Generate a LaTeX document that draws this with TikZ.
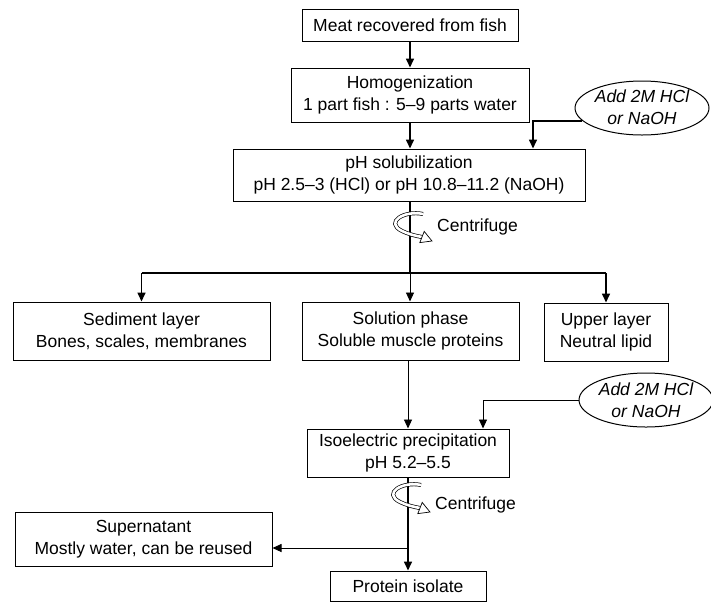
\documentclass[tikz,border=0pt]{standalone}
\usepackage{fontspec}
\setmainfont{Liberation Sans}
\usetikzlibrary{shapes.geometric,arrows.meta,calc}
\begin{document}
\begin{tikzpicture}[x=1pt,y=-1pt,
  font=\fontsize{17.5}{22}\selectfont,
  box/.style={draw, line width=1pt, rectangle, align=center, inner sep=0pt},
  oval/.style={draw, line width=1pt, ellipse, inner sep=0pt},
  ovaltext/.style={align=center, inner sep=0pt, font=\fontsize{17.5}{22}\selectfont\itshape},
  thick arr/.style={line width=1.6pt, -{Triangle[length=9pt,width=8pt]}},
  thin arr/.style={line width=0.9pt, -{Triangle[length=9pt,width=8pt]}},
  thick line/.style={line width=1.6pt},
  thin line/.style={line width=0.9pt},
  centri/.pic={
    \draw[line width=0.7pt, double=white, double distance=2.6pt]
      (13,-14) .. controls (-5,-18) and (-26,-6) .. (-8,3)
      .. controls (-2,6) and (6,8) .. (12,9);
    \filldraw[fill=white, line width=0.7pt] (9.8,14.6) -- (22,13) -- (14.2,3.4) -- cycle;
  }]
\useasboundingbox (0,0) rectangle (711,603);

% boxes
\node[box, minimum width=216, minimum height=32] (b1) at (410,25) {Meat recovered from fish};
\node[box, minimum width=238, minimum height=54] (b2) at (410,95) {Homogenization\\1 part fish : 5–9 parts water};
\node[box, minimum width=352, minimum height=52] (b3) at (409,175) {pH solubilization\\pH 2.5–3 (HCl) or pH 10.8–11.2 (NaOH)};
\node[oval, minimum width=134, minimum height=54] (e1) at (642,108) {};
\node[ovaltext] (e1t) at (642,107) {Add 2M HCl\\or NaOH};

\node[box, minimum width=257, minimum height=58] (sed) at (141.5,331) {Sediment layer\\Bones, scales, membranes};
\node[box, minimum width=217, minimum height=58] (sol) at (410.5,331) {Solution phase\\Soluble muscle proteins};
\node[box, minimum width=124, minimum height=58] (upp) at (606,332) {Upper layer\\Neutral lipid};

\node[oval, minimum width=134, minimum height=54] (e2) at (646,400) {};
\node[ovaltext] (e2t) at (646,400) {Add 2M HCl\\or NaOH};
\node[box, minimum width=202, minimum height=48] (iso) at (408,453) {Isoelectric precipitation\\pH 5.2–5.5};

\node[box, minimum width=257, minimum height=54] (sup) at (143.5,539) {Supernatant\\Mostly water, can be reused};
\node[box, minimum width=156, minimum height=30] (pro) at (408,586) {Protein isolate};

% helper coordinates
\coordinate (x1) at (533,0);
\coordinate (x2) at (483,0);
\coordinate (br) at (410,273);
\coordinate (brl) at (141.5,273);
\coordinate (brr) at (606,273);
\coordinate (j2) at (408,548);

% connectors upper part
\draw[thick arr] (b1.south) -- (b2.north);
\draw[thick arr] (b2.south) -- (b2.south |- b3.north);
\draw[thick arr] (e1.192) -| (b3.north -| x1);
\draw[thick line] (b3.south -| br) -- (br);
\draw[thick line] (brl) -- (brr);
\draw[thick arr] (brl) -- (sed.north);
\draw[thick arr] (brr) -- (upp.north);
\draw[thin arr] (br) -- (br |- sol.north);

% centrifuge 1
\pic at (410,228) {centri};
\node[anchor=west, inner sep=0pt] (c1) at (437,227) {Centrifuge};

% lower part
\draw[thin arr] (sol.south -| iso.north) -- (iso.north);
\draw[thin line] (e2.west) -- (e2.west -| x2);
\draw[thin arr] (e2.west -| x2) -- (iso.north -| x2);
\draw[thick arr] (iso.south) -- (pro.north);
\draw[thin arr] (j2) -- (j2 -| sup.east);
\pic at (408,499) {centri};
\node[anchor=west, inner sep=0pt] (c2) at (435,505) {Centrifuge};
\end{tikzpicture}
\end{document}
